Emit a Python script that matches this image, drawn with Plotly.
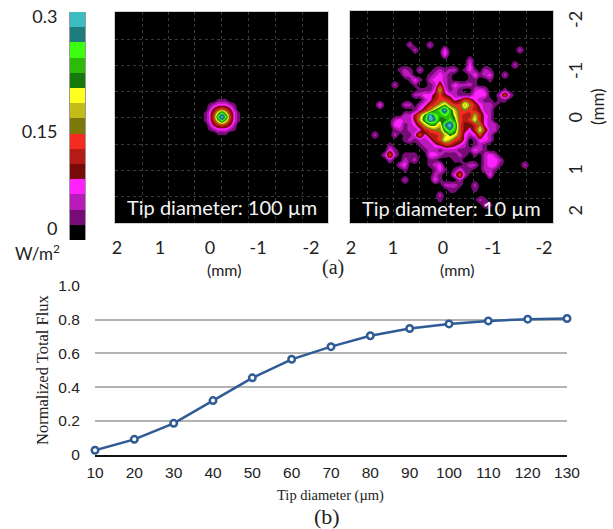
import plotly.graph_objects as go

W, H = 613, 529
FLUX_DIAMETERS = [10, 20, 30, 40, 50, 60, 70, 80, 90, 100, 110, 120, 130]
FLUX_VALUES = [0.025, 0.09, 0.185, 0.32, 0.455, 0.565, 0.64, 0.705, 0.748, 0.775, 0.793, 0.803, 0.807]
FLUX_YTICKS = [0, 0.2, 0.4, 0.6, 0.8, 1.0]
FLUX_YLABELS = ["0", "0.2", "0.4", "0.6", "0.8", "1.0"]

LEVEL_COLORS = ["#000000", "#760c76", "#bb1abb", "#ff22ff", "#780a08", "#b51a14", "#f52a20",
                "#7d780a", "#c4bc18", "#ffff20", "#157a0a", "#2dbb0a", "#3cff10", "#1f7c7c", "#3bbcc0"]

# flux levels (hex digit = colour level)
TIP100 = [
    "00000000000",
    "00001110000",
    "00123332100",
    "00245654200",
    "01359c95310",
    "0136cec6310",
    "01359c95310",
    "00245654200",
    "00123332100",
    "00001110000",
    "00000000000",
]

# flux levels (hex digit = colour level)
TIP10 = [
    "00000 00000 00000 00000 00000 00000 0000",
    "00000 00000 00000 00000 00000 00000 0000",
    "00000 00020 00200 00000 00000 00000 0000",
    "00000 00002 00000 30000 00000 00000 2000",
    "00000 00000 00000 30000 00000 00000 0000",
    "00000 00000 00000 00000 20000 00000 0000",
    "00000 00000 00000 00000 30000 00002 0000",
    "00000 01210 20012 12201 31021 00000 0000",
    "00000 00220 00123 21000 13123 00200 0000",
    "00000 00013 10233 21000 11001 00000 0000",
    "00000 20001 00125 21322 21000 00000 0000",
    "00000 00000 11138 31210 02320 00100 0000",
    "00000 00002 23346 43211 13330 02620 0000",
    "00000 00000 02356 65346 53211 01100 0000",
    "00300 00220 23568 a766a 75322 10000 0000",
    "00000 00001 357ac eb867 65422 00000 0000",
    "00000 00224 7aecb cb965 58532 00000 0000",
    "00000 23224 8beda aca65 69532 00000 0000",
    "00000 33123 58aa8 dec64 45732 20000 0000",
    "00000 12122 35677 bdb64 35952 20000 0000",
    "02000 20113 63556 8a963 23632 00000 0000",
    "00000 00121 22356 98653 01332 00000 0000",
    "00001 00000 12234 55432 01210 00000 0000",
    "00003 10000 01221 22211 13210 00000 0000",
    "00026 20111 00332 11121 01023 20000 0000",
    "00002 00212 00110 00110 00023 32000 0000",
    "00000 02300 00123 00001 22023 31000 0200",
    "00000 00100 00013 10131 10022 10000 0000",
    "00000 00000 00021 00362 00003 00000 0000",
    "00000 00200 00031 00020 00000 00000 0000",
    "00000 00000 00000 22210 02000 00000 0000",
    "00000 00000 00000 01100 01000 00000 0000",
    "00000 00000 00002 00000 00000 00000 0000",
    "00000 00000 00001 00000 00210 00000 0000",
    "00000 00000 00000 00000 00021 00000 0000",
    "00000 00000 00000 00000 00000 00000 0000",
]

LEFT_XTICKS, LEFT_XLABELS = [1.9, 1.02, 0, -0.98, -2.06], ["2", "1", "0", "-1", "-2"]
RIGHT_XTICKS, RIGHT_XLABELS = [1.88, 1.02, 0, -1.02, -2.06], ["2", "1", "0", "-1", "-2"]
RIGHT_YTICKS, RIGHT_YLABELS = [-1.96, -0.94, 0, 1.04, 1.86], ["-2", "-1", "0", "1", "2"]
LEFT_GRID_X = [1.37, 0.84, 0.31, -0.24, -0.78, -1.33, -1.88]
LEFT_GRID_Y = [-1.62, -1.1, -0.58, -0.06, 0.48, 1.0, 1.52]
RIGHT_GRID_X = [1.55, 1.02, 0.47, -0.08, -0.63, -1.16, -1.71]
RIGHT_GRID_Y = [-1.64, -1.12, -0.58, -0.04, 0.48, 1.04, 1.56]


def decode(rows):
    return [[int(ch, 16) for ch in row.replace(" ", "")] for row in rows]


def xdom(a, b):
    return [a / W, b / W]


def ydom(a, b):
    return [1 - b / H, 1 - a / H]


scale = [[0, "rgba(0,0,0,0)"], [1 / 15, "rgba(0,0,0,0)"]]
for i, c in enumerate(LEVEL_COLORS[1:], start=1):
    scale += [[i / 15, c], [(i + 1) / 15, c]]
bar_scale = [[0, "#000000"], [1 / 15, "#000000"]] + scale[2:]

fig = go.Figure()

# (b) line chart
fig.add_trace(go.Scatter(
    x=FLUX_DIAMETERS, y=FLUX_VALUES, mode="lines+markers", cliponaxis=False,
    line=dict(color="#2f5b96", width=2.5),
    marker=dict(symbol="circle", size=6.5, color="#ffffff", line=dict(color="#2f5b96", width=2.5)),
    xaxis="x", yaxis="y", showlegend=False,
))

PX_MM = 49.0
CONTOURS = dict(coloring="fill", start=0.5, end=13.5, size=1, showlines=False)
# left panel
fig.add_trace(go.Contour(
    z=decode(TIP100), x0=(210 - 202) / PX_MM, dx=-4 / PX_MM, y0=(97 - 120) / 50, dy=4 / 50,
    zmin=-0.5, zmax=14.5, colorscale=scale, showscale=False, autocontour=False,
    contours=CONTOURS, line=dict(width=0, smoothing=1.3),
    xaxis="x2", yaxis="y2", hoverinfo="skip",
))
# right panel
fig.add_trace(go.Contour(
    z=decode(TIP10), x0=(443 - 370) / PX_MM, dx=-5 / PX_MM, y0=(35 - 120) / 50, dy=5 / 50,
    zmin=-0.5, zmax=14.5, colorscale=scale, showscale=False, autocontour=False,
    contours=CONTOURS, line=dict(width=0, smoothing=1.3),
    xaxis="x3", yaxis="y3", hoverinfo="skip",
))
# colour key
fig.add_trace(go.Heatmap(
    z=[[i] for i in range(15)], x=[0], y=list(range(15)),
    zmin=-0.5, zmax=14.5, colorscale=bar_scale, showscale=False, ygap=0,
    xaxis="x4", yaxis="y4", hoverinfo="skip",
))

SANS = "Lato, 'Open Sans', sans-serif"
ARIAL = "'Liberation Sans', Arial, sans-serif"
SERIF = "'Liberation Serif', 'Times New Roman', serif"
INK = "#222222"


def panel_axis(domain, rng, ticks, labels, grid, ticklen=8, **kw):
    return dict(
        domain=domain, range=rng, tickmode="array", tickvals=ticks, ticktext=labels,
        ticks="outside", ticklen=ticklen, tickcolor="rgba(0,0,0,0)", automargin=False,
        tickfont=dict(family=SANS, size=18, color=INK), showgrid=False, zeroline=False,
        showline=True, mirror=True, linecolor="#d0d0d0", linewidth=1,
        minor=dict(tickmode="array", tickvals=grid, showgrid=True, griddash="dot",
                   gridcolor="#3a3a3a", gridwidth=1, ticks=""),
        **kw,
    )


def ann(text, x, y, size=18, family=SANS, color=INK, angle=0):
    return dict(text=text, x=x / W, y=1 - y / H, xref="paper", yref="paper", showarrow=False,
                xanchor="center", yanchor="middle", textangle=angle,
                font=dict(family=family, size=size, color=color))


fig.update_layout(
    template="none",
    width=W, height=H, autosize=False, margin=dict(l=0, r=0, t=0, b=0, pad=0),
    paper_bgcolor="#ffffff", plot_bgcolor="rgba(0,0,0,0)", showlegend=False,
    xaxis=dict(domain=xdom(95, 567), range=[10, 130], tickmode="array", tickvals=FLUX_DIAMETERS,
               ticks="outside", ticklen=3, tickcolor="rgba(0,0,0,0)", showgrid=False, zeroline=False,
               showline=True, linecolor="#111111", linewidth=1.5, automargin=False,
               tickfont=dict(family=ARIAL, size=15.5, color=INK)),
    yaxis=dict(domain=ydom(286, 454.5), range=[0, 1], tickmode="array", tickvals=FLUX_YTICKS,
               ticktext=FLUX_YLABELS, ticks="outside", ticklen=11, tickcolor="rgba(0,0,0,0)",
               showgrid=True, gridcolor="#b3b3b3", gridwidth=1.5, zeroline=False, automargin=False,
               showline=False, tickfont=dict(family=ARIAL, size=15.5, color=INK)),
    xaxis2=panel_axis(xdom(115, 328), [(210 - 115) / PX_MM, (210 - 328) / PX_MM],
                      LEFT_XTICKS, LEFT_XLABELS, LEFT_GRID_X, anchor="y2"),
    yaxis2=panel_axis(ydom(12, 223), [(223 - 120) / 50, (12 - 120) / 50],
                      None, None, LEFT_GRID_Y, anchor="x2", showticklabels=False),
    xaxis3=panel_axis(xdom(350, 553), [(443 - 350) / PX_MM, (443 - 553) / PX_MM],
                      RIGHT_XTICKS, RIGHT_XLABELS, RIGHT_GRID_X, anchor="y3"),
    yaxis3=panel_axis(ydom(11, 223), [(223 - 120) / 50, (11 - 120) / 50],
                      RIGHT_YTICKS, RIGHT_YLABELS, RIGHT_GRID_Y, ticklen=6, anchor="x3", side="right",
                      tickangle=-90),
    xaxis4=dict(domain=xdom(70, 85), range=[-0.5, 0.5], visible=False, anchor="y4", automargin=False),
    yaxis4=dict(domain=ydom(12, 240), range=[-0.5, 14.5], anchor="x4", tickmode="array",
                tickvals=[14.2, 6.6, 0.25], ticktext=["0.3", "0.15", "0"], ticks="outside", ticklen=8,
                tickcolor="rgba(0,0,0,0)", showgrid=False, zeroline=False, showline=True, mirror=True,
                linecolor="#9a9a9a", linewidth=1, automargin=False,
                tickfont=dict(family=SANS, size=18, color=INK)),
    shapes=[
        dict(type="rect", xref="x2 domain", yref="y2 domain", x0=0, x1=1, y0=0, y1=1,
             fillcolor="#000000", line_width=0, layer="below"),
        dict(type="rect", xref="x3 domain", yref="y3 domain", x0=0, x1=1, y0=0, y1=1,
             fillcolor="#000000", line_width=0, layer="below"),
    ],
    annotations=[
        ann("Tip diameter: 100 µm", 222, 207, size=20, color="#f4f4f4"),
        ann("Tip diameter: 10 µm", 451, 208, size=20, color="#f4f4f4"),
        ann("W/m<sup>2</sup>", 37, 252, size=17),
        ann("(mm)", 224, 269, size=16),
        ann("(mm)", 457, 269, size=16),
        ann("(mm)", 598, 107, size=17, angle=-90),
        ann("(a)", 333, 267, size=20, family=SERIF),
        ann("Normalized Total Flux", 42, 370, size=16.5, family=SERIF, angle=-90),
        ann("Tip diameter (µm)", 330, 495, size=14.5, family=SERIF),
        ann("(b)", 327, 516, size=22, family=SERIF),
    ],
)

fig.write_html("out.html", config={"displayModeBar": False},
               post_script="document.body.style.margin='0';")
